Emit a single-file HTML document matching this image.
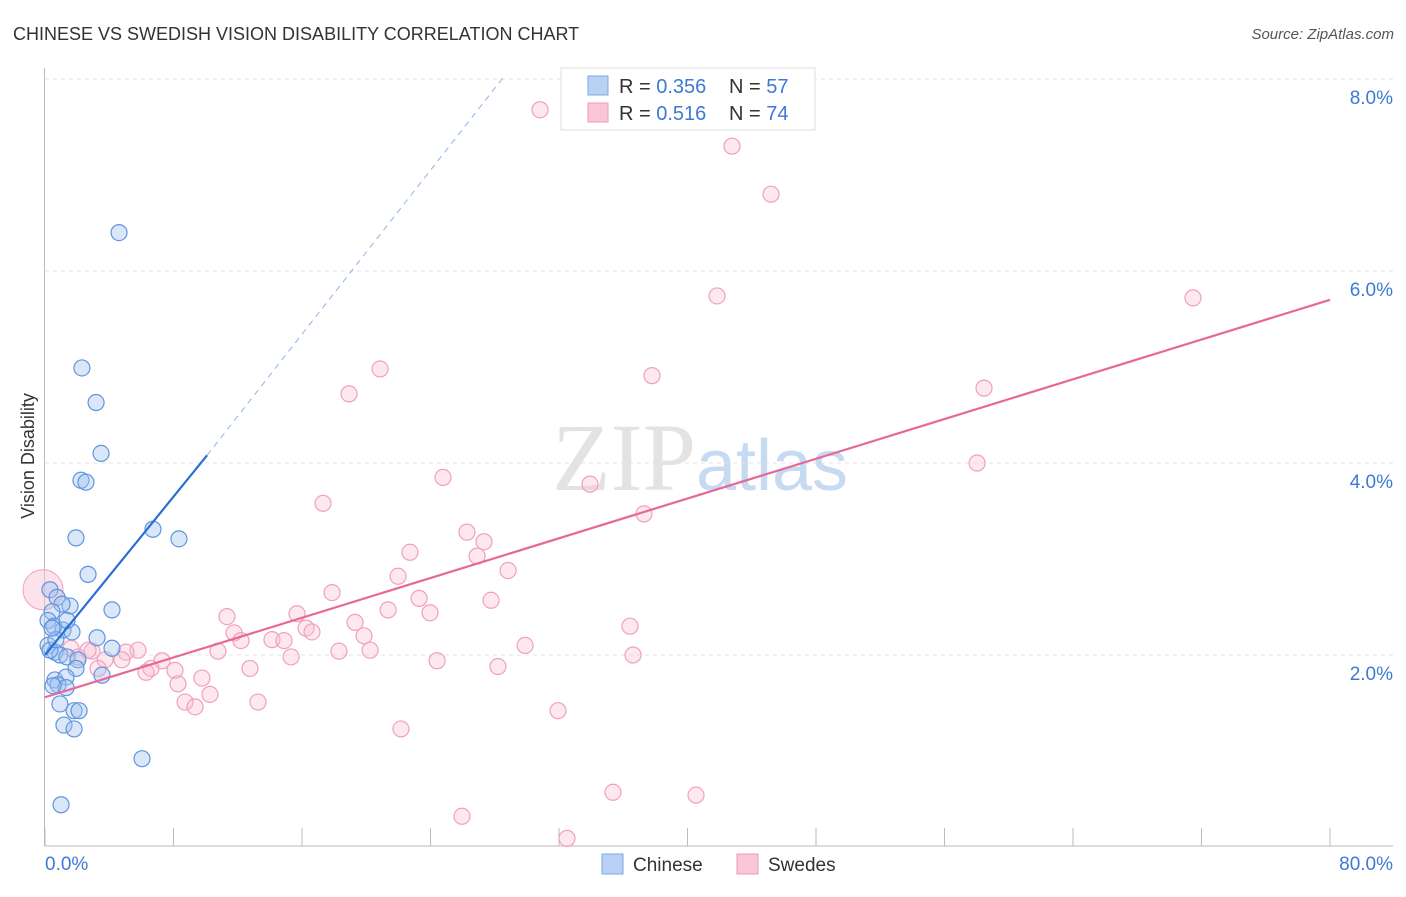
<!DOCTYPE html>
<html><head><meta charset="utf-8"><style>
body{margin:0;background:#fff;font-family:"Liberation Sans",sans-serif;}
</style></head><body>
<svg id="chart" width="1406" height="892" xmlns="http://www.w3.org/2000/svg" font-family="Liberation Sans, sans-serif">
<text x="13" y="40" font-size="18" fill="#333">CHINESE VS SWEDISH VISION DISABILITY CORRELATION CHART</text>
<text x="1394" y="39" font-size="15" fill="#555" text-anchor="end" font-style="italic">Source: ZipAtlas.com</text>
<text x="700" y="490" font-size="96" fill="#ddd" text-anchor="middle" font-family="Liberation Serif, serif" opacity="0.8">ZIP<tspan fill="#b9d2ef" font-family="Liberation Sans, sans-serif" font-size="72">atlas</tspan></text>
<g id="grid"></g>
<g id="axes"></g>
<g id="marks"></g>
<g id="lines"></g>
<text transform="translate(34,456) rotate(-90)" font-size="18" fill="#333" text-anchor="middle">Vision Disability</text>
<g>
<rect x="561" y="68" width="254" height="62" fill="#fff" stroke="#ddd"/>
<rect x="588" y="76" width="20" height="19" fill="#b9d2f3" stroke="#7aaae6"/>
<text x="619" y="93" font-size="20" fill="#333">R = <tspan fill="#3d7ad6">0.356</tspan></text>
<text x="729" y="93" font-size="20" fill="#333">N = <tspan fill="#3d7ad6">57</tspan></text>
<rect x="588" y="103" width="20" height="19" fill="#f9c6d6" stroke="#ee9ab7"/>
<text x="619" y="120" font-size="20" fill="#333">R = <tspan fill="#3d7ad6"> 0.516</tspan></text>
<text x="729" y="120" font-size="20" fill="#333">N = <tspan fill="#3d7ad6">74</tspan></text>
</g>
<g>
<rect x="602" y="854" width="21" height="20" fill="#b9d2f3" stroke="#7aaae6"/>
<text x="633" y="871" font-size="19" fill="#333">Chinese</text>
<rect x="737" y="854" width="21" height="20" fill="#f9c6d6" stroke="#ee9ab7"/>
<text x="768" y="871" font-size="19" fill="#333">Swedes</text>
</g>
</svg>
<script>
const xTicks=[0,8,16,24,32,40,48,56,64,72,80];
const yTicks=[2,4,6,8];
const chineseX=[4.61,2.30,3.18,3.49,2.24,2.55,6.72,8.34,1.93,2.68,4.17,0.31,0.75,1.56,1.06,0.44,0.19,0.56,1.12,1.68,1.37,3.24,4.17,0.19,0.62,0.93,1.37,2.05,1.93,3.55,0.62,1.31,0.81,1.31,0.50,0.93,1.81,2.12,1.18,1.81,6.04,1.00,0.31,0.68,0.44];
const chineseY=[6.40,4.99,4.63,4.10,3.82,3.80,3.31,3.21,3.22,2.84,2.47,2.68,2.60,2.51,2.53,2.45,2.36,2.30,2.26,2.24,2.36,2.18,2.07,2.10,2.03,2.00,1.98,1.95,1.86,1.79,1.74,1.77,1.69,1.66,1.68,1.49,1.42,1.42,1.27,1.23,0.92,0.44,2.05,2.16,2.28];
const swedesX=[30.82,42.77,45.20,41.84,71.47,20.86,37.79,18.93,58.46,58.03,24.78,33.93,17.31,37.29,26.27,27.33,22.72,26.90,28.83,21.98,17.87,23.29,27.77,11.33,15.69,21.36,23.97,19.30,36.42,16.25,11.77,16.62,19.86,14.13,14.88,12.20,29.89,10.77,18.30,20.24,36.61,15.32,24.41,5.79,7.28,5.04,2.93,1.62,2.05,3.74,4.79,6.60,6.29,8.09,12.76,28.20,8.28,9.77,10.27,8.72,9.34,13.26,31.94,22.16,35.36,40.53,25.96,32.50,3.30,2.68];
const swedesY=[7.68,7.30,6.80,5.74,5.72,4.98,4.91,4.72,4.78,4.00,3.85,3.78,3.58,3.47,3.28,3.18,3.07,3.03,2.88,2.82,2.65,2.59,2.57,2.40,2.43,2.47,2.44,2.34,2.30,2.28,2.23,2.24,2.20,2.16,2.15,2.15,2.10,2.04,2.04,2.05,2.00,1.98,1.94,2.05,1.94,2.03,2.04,2.07,1.98,1.95,1.95,1.86,1.82,1.84,1.86,1.88,1.70,1.76,1.59,1.51,1.46,1.51,1.42,1.23,0.57,0.54,0.32,0.09,1.86,2.05];
const chineseTrend=[[0,2.0],[10.09,4.08]];
const chineseTrendExt=[[10.09,4.08],[28.5,8.01]];
const swedesTrend=[[0,1.56],[80,5.70]];
const NS="http://www.w3.org/2000/svg";
function sx(v){return 45+v*(1285/80);}
function sy(v){return 847-v*96;}
function mk(tag,attrs,parent){const e=document.createElementNS(NS,tag);for(const k in attrs)e.setAttribute(k,attrs[k]);parent.appendChild(e);return e;}
const grid=document.getElementById('grid'),axes=document.getElementById('axes'),marks=document.getElementById('marks'),lines=document.getElementById('lines');
yTicks.forEach(t=>{
 const l=mk('line',{x1:45,x2:1393,y1:sy(t),y2:sy(t),stroke:'#e3e3e3','stroke-dasharray':'4,4'},grid);
 
 
 const tx=mk('text',{x:1393,y:sy(t)+25,'font-size':19,fill:'#3d7ad6','text-anchor':'end'},axes);
 tx.textContent=t.toFixed(1)+'%';
 
 
});
const ax=mk('line',{x1:45,x2:1393,y1:846,y2:846,stroke:'#bbb'},axes);


const ay=mk('line',{x1:44.5,x2:44.5,y1:68,y2:846,stroke:'#bbb'},axes);


xTicks.forEach(t=>{
 const l=mk('line',{x1:sx(t),x2:sx(t),y1:828,y2:846,stroke:'#bbb'},axes);
 
 
});
[[0,'start',45],[80,'end',1393]].forEach(([t,a,x])=>{
 const tx=mk('text',{x:x,y:870,'font-size':19,fill:'#3d7ad6','text-anchor':a},axes);
 tx.textContent=t.toFixed(1)+'%';
 
 
});
const big=mk('circle',{cx:sx(0)-2,cy:sy(2.68),r:20,fill:'rgba(248,190,210,0.45)',stroke:'#f0a0bd'},marks);


swedesX.forEach((x,i)=>{
 const c=mk('circle',{cx:sx(x),cy:sy(swedesY[i]),r:8,fill:'rgba(248,190,210,0.35)',stroke:'#f0a0bd','stroke-width':1.2},marks);
 
 
});
chineseX.forEach((x,i)=>{
 const c=mk('circle',{cx:sx(x),cy:sy(chineseY[i]),r:8,fill:'rgba(160,196,240,0.4)',stroke:'#5f95dd','stroke-width':1.2},marks);
 
 
});
const l1=mk('line',{x1:sx(chineseTrend[0][0]),y1:sy(chineseTrend[0][1]),x2:sx(chineseTrend[1][0]),y2:sy(chineseTrend[1][1]),stroke:'#2a6fd6','stroke-width':2.2},lines);


const l2=mk('line',{x1:sx(chineseTrendExt[0][0]),y1:sy(chineseTrendExt[0][1]),x2:sx(chineseTrendExt[1][0]),y2:sy(chineseTrendExt[1][1]),stroke:'#8fb4e8','stroke-width':1,'stroke-dasharray':'6,5'},lines);


const l3=mk('line',{x1:sx(swedesTrend[0][0]),y1:sy(swedesTrend[0][1]),x2:sx(swedesTrend[1][0]),y2:sy(swedesTrend[1][1]),stroke:'#e8679a','stroke-width':2.2},lines);


</script>
</body></html>
